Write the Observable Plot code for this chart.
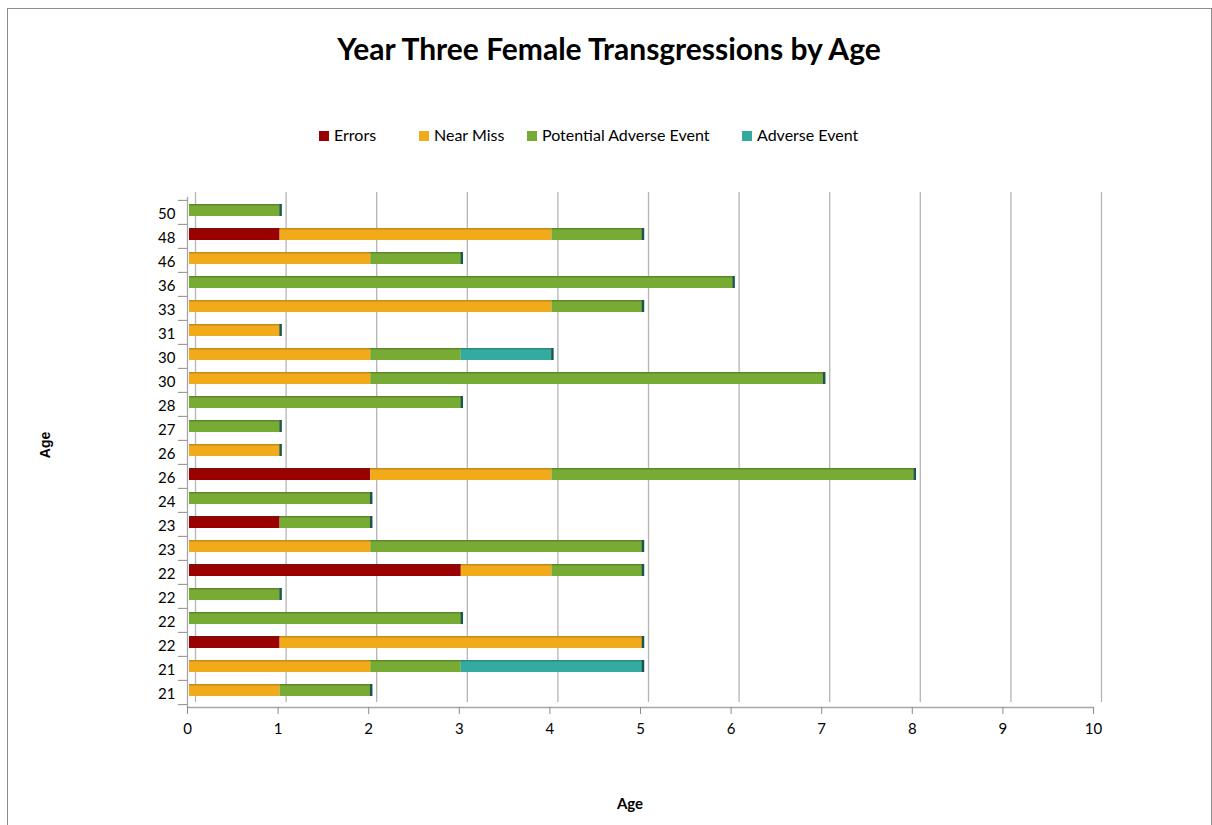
<!DOCTYPE html>
<html>
<head>
<meta charset="utf-8">
<script src="https://cdn.jsdelivr.net/npm/d3@7"></script>
<script src="https://cdn.jsdelivr.net/npm/@observablehq/plot@0.6"></script>
<style>
  html, body { margin: 0; padding: 0; background: #fff; }
  #wrap { position: relative; width: 1212px; height: 825px; overflow: hidden; font-family: Lato, "Open Sans", sans-serif; }
  #border { position: absolute; left: 7px; top: 8px; width: 1205px; height: 840px; box-sizing: border-box; border: 1px solid #8c8c8c; }
  #title { position: absolute; left: 7px; width: 1204px; top: 30px; text-align: center; font-weight: bold; font-size: 30px; color: #000; }
  .leg { position: absolute; top: 125px; font-size: 16px; color: #000; white-space: nowrap; }
  .sw { display: inline-block; width: 10px; height: 10px; margin-right: 5px; vertical-align: 0px; }
  #ytitle { position: absolute; left: 45px; top: 445px; transform: translate(-50%, -50%) rotate(-90deg); font-weight: bold; font-size: 14px; font-family: "Liberation Sans", Arial, sans-serif; }
  #xtitle { position: absolute; left: 630px; top: 803px; transform: translate(-50%, -50%); font-weight: bold; font-size: 15px; }
  #chart { position: absolute; left: 0; top: 170px; }
</style>
</head>
<body>
<div id="wrap">
  <div id="border"></div>
  <div id="title">Year Three Female Transgressions by Age</div>
  <div id="legend"></div>
  <div id="ytitle">Age</div>
  <div id="xtitle">Age</div>
  <div id="chart"></div>
</div>
<script>
// Rows listed bottom to top (as in the chart)
const ages = ["21","21","22","22","22","22","23","23","24","26","26","27","28","30","30","31","33","36","46","48","50"];
const errors       = [0,0,1,0,0,3,0,1,0,2,0,0,0,0,0,0,0,0,0,1,0];
const nearMiss     = [1,2,4,0,0,1,2,0,0,2,1,0,0,2,2,1,4,0,2,3,0];
const potentialAE  = [1,1,0,3,1,1,3,1,2,4,0,1,3,5,1,0,1,6,1,1,1];
const adverseEvent = [0,2,0,0,0,0,0,0,0,0,0,0,0,0,1,0,0,0,0,0,0];
const seriesNames  = ["Errors", "Near Miss", "Potential Adverse Event", "Adverse Event"];
const seriesColors = ["#9a0000", "#f0aa1a", "#78ab34", "#33aba1"];
const topColors    = ["#7a1010", "#c28a18", "#5c8a2a", "#2a8a82"];
const xTicks = [0,1,2,3,4,5,6,7,8,9,10];

const seriesValues = [errors, nearMiss, potentialAE, adverseEvent];
const rows = ages.map((a, i) => i);
const data = [];
rows.forEach(i => {
  seriesNames.forEach((s, k) => {
    if (seriesValues[k][i] > 0) data.push({row: i, age: ages[i], series: s, value: seriesValues[k][i]});
  });
});
const totals = rows.map(i => ({row: i, total: seriesValues.reduce((acc, arr) => acc + arr[i], 0)}));

// legend
const legendLeft = [319, 419, 527, 742];
const legend = document.getElementById("legend");
seriesNames.forEach((s, k) => {
  const d = document.createElement("div");
  d.className = "leg";
  d.style.left = legendLeft[k] + "px";
  d.innerHTML = `<span class="sw" style="background:${seriesColors[k]}"></span>${s}`;
  legend.appendChild(d);
});

const yDomain = rows.slice().reverse();
const fmt = i => ages[i];

const chart = Plot.plot({
  width: 1212,
  height: 655,
  marginTop: 27,
  marginBottom: 118,
  marginLeft: 187,
  marginRight: 119,
  style: {fontFamily: "Lato, 'Open Sans', sans-serif", fontSize: "15px", color: "#000", background: "transparent"},
  x: {domain: [0, 10], axis: null},
  y: {domain: yDomain, axis: null, padding: 0.5, paddingOuter: 0.25},
  color: {domain: seriesNames, range: seriesColors},
  marks: [
    // back wall gridlines
    Plot.ruleX(xTicks, {stroke: "#b5b5b5", strokeWidth: 1.3, dx: 8, dy: -5}),
    // front axes
    Plot.frame({anchor: "left", stroke: "#a6a6a6", strokeWidth: 1.3}),
    Plot.frame({anchor: "bottom", stroke: "#a6a6a6", strokeWidth: 1.3}),
    // category boundary ticks
    Plot.ruleY(rows, {y: d => d, x1: -0.1, x2: 0, dy: -12.14, stroke: "#8c8c8c"}),
    Plot.ruleY([0], {y: d => d, x1: -0.1, x2: 0, dy: 12.14, stroke: "#8c8c8c"}),
    // bars
    Plot.barX(data, Plot.stackX({x: "value", y: "row", fill: "series", order: seriesNames, dy: -2, dx: 2})),
    Plot.barX(data, Plot.stackX({x: "value", y: "row", fill: d => topColors[seriesNames.indexOf(d.series)], order: seriesNames, dy: -2, dx: 2, insetBottom: 10.5})),
    Plot.tickX(totals, {x: "total", y: "row", stroke: "#1c5650", strokeWidth: 2.5, dy: -2, dx: 2.5}),
    // axes
    Plot.axisY({tickSize: 0, tickPadding: 12, tickFormat: fmt, label: null, dy: 2, fontSize: 15}),
    Plot.axisX({ticks: xTicks, tickSize: 7, tickPadding: 9, tickFormat: d => String(d), label: null, stroke: "#8c8c8c", fontSize: 15})
  ]
});
document.getElementById("chart").appendChild(chart);
</script>
</body>
</html>
